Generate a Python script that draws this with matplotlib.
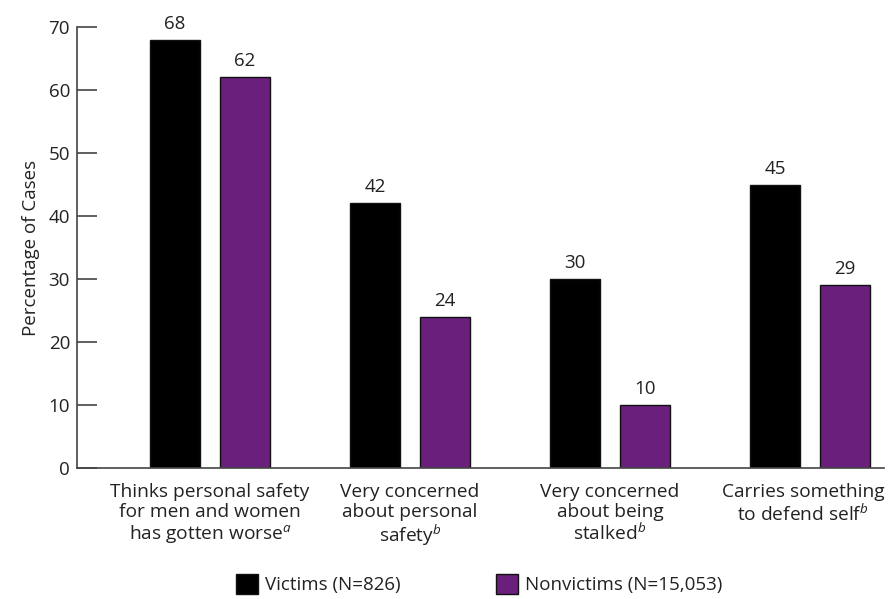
import matplotlib
matplotlib.use("Agg")
import matplotlib.pyplot as plt
import matplotlib.transforms as mtransforms
import numpy as np
from matplotlib.patches import Patch

plt.rcParams['font.family'] = ['Open Sans', 'DejaVu Sans']
plt.rcParams['mathtext.fontset'] = 'custom'
plt.rcParams['mathtext.rm'] = 'Open Sans'
plt.rcParams['mathtext.it'] = 'Open Sans:italic'

categories = [
    "Thinks personal safety\nfor men and women\nhas gotten worse$^{a}$",
    "Very concerned\nabout personal\nsafety$^{b}$",
    "Very concerned\nabout being\nstalked$^{b}$",
    "Carries something\nto defend self$^{b}$",
]
victims = [68, 42, 30, 45]
nonvictims = [62, 24, 10, 29]
series_names = ["Victims (N=826)", "Nonvictims (N=15,053)"]
yticks = [0, 10, 20, 30, 40, 50, 60, 70]

black = "#000000"
purple = "#6a1f7d"
axcol = "#444444"
txtcol = "#222222"

fig = plt.figure(figsize=(8.89, 5.99), dpi=100)
ax = fig.add_axes([77/889, 1-468/599, (884-77)/889, (468-27)/599])

x = np.arange(len(categories))
w = 0.25
off = 0.175
b1 = ax.bar(x - off, victims, w, color=black, edgecolor="#111111", linewidth=1)
b2 = ax.bar(x + off, nonvictims, w, color=purple, edgecolor="#111111", linewidth=1)

for bars, vals in ((b1, victims), (b2, nonvictims)):
    for r, v in zip(bars, vals):
        ax.annotate(str(v), (r.get_x() + r.get_width()/2, v), xytext=(0, 5),
                    textcoords="offset points", ha="center", va="bottom",
                    fontsize=13.5, color=txtcol)

ax.set_xlim(-0.665, 3.37)
ax.set_ylim(0, 70)
ax.set_yticks(yticks)
ax.set_xticks(x)
ax.set_xticklabels(categories, fontsize=13.8, color=txtcol, linespacing=1.12)
ax.tick_params(axis='x', length=0, pad=11)
ax.tick_params(axis='y', direction='in', length=14.4, width=1.2, color=axcol,
               labelsize=13.5, labelcolor=txtcol, pad=5)
# nudge the last category label left so it stays inside the figure
last = ax.get_xticklabels()[-1]
last.set_transform(last.get_transform() + mtransforms.ScaledTranslation(-7/100, 0, fig.dpi_scale_trans))
for s in ('top', 'right'):
    ax.spines[s].set_visible(False)
for s in ('left', 'bottom'):
    ax.spines[s].set_color(axcol)
    ax.spines[s].set_linewidth(1.2)
ax.set_ylabel("Percentage of Cases", fontsize=13.5, color=txtcol, labelpad=6)

handles = [Patch(facecolor=black, edgecolor="#111111"), Patch(facecolor=purple, edgecolor="#111111")]
fig.legend(handles, series_names, loc="center", bbox_to_anchor=(479/889, 1-584/599),
           ncol=2, frameon=False, fontsize=13.5, handlelength=1.2, handleheight=1.3,
           handletextpad=0.35, columnspacing=5.1, labelcolor=txtcol)

fig.savefig("out.png", dpi=100)
